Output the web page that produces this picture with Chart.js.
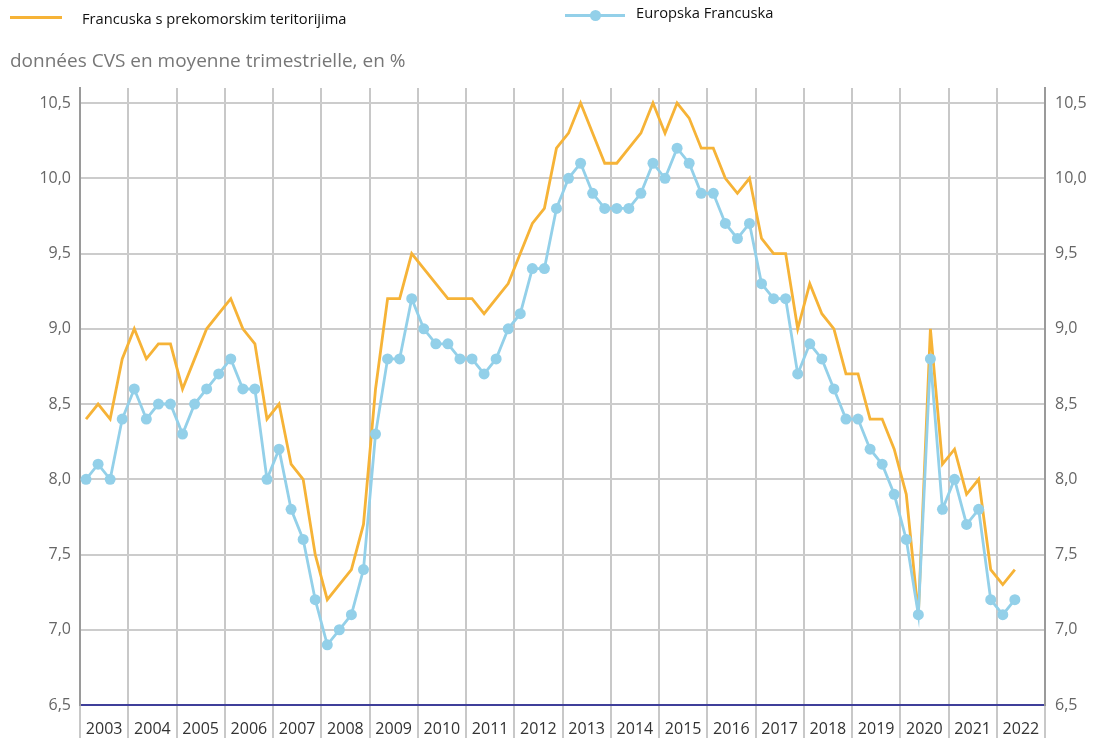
<!DOCTYPE html>
<html>
<head>
<meta charset="utf-8">
<script src="https://cdn.jsdelivr.net/npm/chart.js@4"></script>
<style>
  html, body { margin: 0; padding: 0; background: #fff; }
  #wrap { position: relative; width: 1094px; height: 738px; overflow: hidden; }
  canvas { position: absolute; left: 0; top: 0; }
  .leg { position: absolute; font-family: "Open Sans", sans-serif; font-size: 14.7px; color: #111; white-space: nowrap; }
  .title { position: absolute; left: 10px; top: 47px; font-family: "Open Sans", sans-serif; font-size: 19px; color: #777; white-space: nowrap; }
  .sw1 { position: absolute; left: 10px; top: 16px; width: 52px; height: 3px; background: #F6B337; }
  .sw2 { position: absolute; left: 565px; top: 14px; width: 60px; height: 3px; background: #93D0E9; }
  .dot { position: absolute; left: 590px; top: 10px; width: 11px; height: 11px; border-radius: 50%; background: #93D0E9; }
</style>
</head>
<body>
<div id="wrap">
  <canvas id="c" width="1094" height="738"></canvas>
  <div class="sw1"></div>
  <div class="leg" style="left:82px; top:8px;">Francuska s prekomorskim teritorijima</div>
  <div class="sw2"></div><div class="dot"></div>
  <div class="leg" style="left:636px; top:2px;">Europska Francuska</div>
  <div class="title">données CVS en moyenne trimestrielle, en %</div>
</div>
<script>
const years = ['2003','2004','2005','2006','2007','2008','2009','2010','2011','2012','2013','2014','2015','2016','2017','2018','2019','2020','2021','2022'];
const yTicks = [6.5, 7.0, 7.5, 8.0, 8.5, 9.0, 9.5, 10.0, 10.5];

// Quarterly values, 2003 Q1 .. 2022 Q2
const franceWithOverseas = [
  8.4, 8.5, 8.4, 8.8,
  9.0, 8.8, 8.9, 8.9,
  8.6, 8.8, 9.0, 9.1,
  9.2, 9.0, 8.9, 8.4,
  8.5, 8.1, 8.0, 7.5,
  7.2, 7.3, 7.4, 7.7,
  8.6, 9.2, 9.2, 9.5,
  9.4, 9.3, 9.2, 9.2,
  9.2, 9.1, 9.2, 9.3,
  9.5, 9.7, 9.8, 10.2,
  10.3, 10.5, 10.3, 10.1,
  10.1, 10.2, 10.3, 10.5,
  10.3, 10.5, 10.4, 10.2,
  10.2, 10.0, 9.9, 10.0,
  9.6, 9.5, 9.5, 9.0,
  9.3, 9.1, 9.0, 8.7,
  8.7, 8.4, 8.4, 8.2,
  7.9, 7.1, 9.0, 8.1,
  8.2, 7.9, 8.0, 7.4,
  7.3, 7.4
];
const metropolitanFrance = [
  8.0, 8.1, 8.0, 8.4,
  8.6, 8.4, 8.5, 8.5,
  8.3, 8.5, 8.6, 8.7,
  8.8, 8.6, 8.6, 8.0,
  8.2, 7.8, 7.6, 7.2,
  6.9, 7.0, 7.1, 7.4,
  8.3, 8.8, 8.8, 9.2,
  9.0, 8.9, 8.9, 8.8,
  8.8, 8.7, 8.8, 9.0,
  9.1, 9.4, 9.4, 9.8,
  10.0, 10.1, 9.9, 9.8,
  9.8, 9.8, 9.9, 10.1,
  10.0, 10.2, 10.1, 9.9,
  9.9, 9.7, 9.6, 9.7,
  9.3, 9.2, 9.2, 8.7,
  8.9, 8.8, 8.6, 8.4,
  8.4, 8.2, 8.1, 7.9,
  7.6, 7.1, 8.8, 7.8,
  8.0, 7.7, 7.8, 7.2,
  7.1, 7.2
];

const toXY = arr => arr.map((v, i) => ({ x: i + 0.5, y: v }));
const nQ = years.length * 4;
const fmt = v => Number(v).toFixed(1).replace('.', ',');
const tickFont = { family: '"Open Sans", sans-serif', size: 16 };

new Chart(document.getElementById('c'), {
  type: 'line',
  data: {
    datasets: [
      {
        label: 'Francuska s prekomorskim teritorijima',
        data: toXY(franceWithOverseas),
        borderColor: '#F6B337',
        backgroundColor: '#F6B337',
        borderWidth: 2.8,
        pointRadius: 0,
        tension: 0,
        order: 2
      },
      {
        label: 'Europska Francuska',
        data: toXY(metropolitanFrance),
        borderColor: '#93D0E9',
        backgroundColor: '#93D0E9',
        borderWidth: 2.8,
        pointRadius: 5.5,
        pointBorderWidth: 0,
        tension: 0,
        order: 1
      }
    ]
  },
  options: {
    responsive: false,
    animation: false,
    layout: { padding: { top: 88, left: 0, right: 0, bottom: 0 } },
    plugins: { legend: { display: false }, tooltip: { enabled: false } },
    scales: {
      x: {
        type: 'linear',
        position: 'bottom',
        min: 0,
        max: nQ,
        afterBuildTicks: s => {
          const t = [];
          for (let v = 0; v <= nQ; v += 2) t.push({ value: v });
          s.ticks = t;
        },
        afterFit: s => { s.height = 33; },
        ticks: {
          autoSkip: false,
          maxRotation: 0,
          padding: -18,
          color: '#333',
          font: tickFont,
          callback: v => (v % 4 === 2 ? years[(v - 2) / 4] : '')
        },
        grid: {
          color: ctx => (ctx.tick && ctx.tick.value % 4 === 0 ? '#c8c8c8' : 'rgba(0,0,0,0)'),
          lineWidth: 2,
          tickLength: 33,
          drawTicks: true
        },
        border: { display: true, color: '#3f3f9a', width: 2 }
      },
      y: {
        position: 'left',
        min: 6.5,
        max: 10.6,
        afterBuildTicks: s => { s.ticks = yTicks.map(v => ({ value: v })); },
        afterFit: s => { s.width = 80; },
        ticks: { padding: 9, color: '#666', font: tickFont, callback: v => fmt(v) },
        grid: { color: '#cccccc', lineWidth: 2, drawTicks: false },
        border: { display: true, color: '#9a9a9a', width: 2 }
      },
      y2: {
        position: 'right',
        min: 6.5,
        max: 10.6,
        afterBuildTicks: s => { s.ticks = yTicks.map(v => ({ value: v })); },
        afterFit: s => { s.width = 49; },
        ticks: { padding: 10, color: '#666', font: tickFont, callback: v => fmt(v) },
        grid: { display: false, drawTicks: false },
        border: { display: true, color: '#9a9a9a', width: 2 }
      }
    }
  }
});
</script>
</body>
</html>
